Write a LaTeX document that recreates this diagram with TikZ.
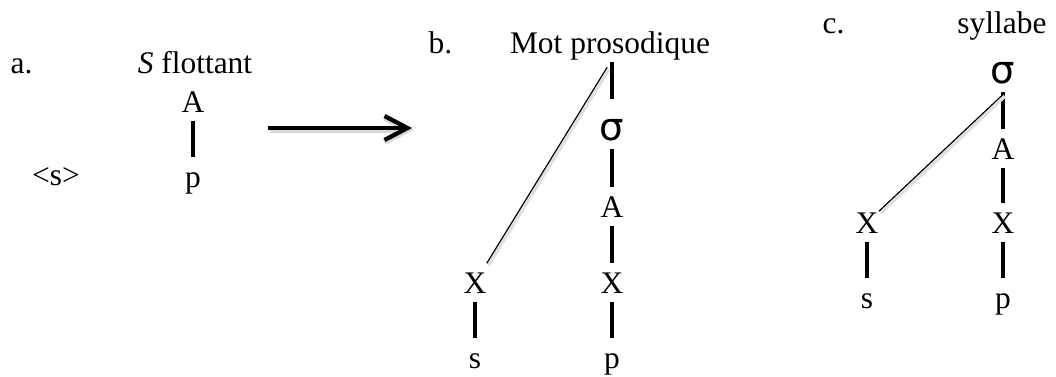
\documentclass[tikz,border=0pt]{standalone}
\usepackage{fontspec}
\setmainfont{Liberation Serif}
\newfontfamily\sigfont{DejaVu Sans}
\usepackage{tikz}
\usetikzlibrary{arrows.meta}

\tikzset{
  lab/.style={anchor=base west,inner sep=0pt},
  seg/.style={anchor=base,inner sep=0pt,text height=10.2pt,text depth=2.8pt},
  sig/.style={seg,text height=14pt,font=\sigfont\fontsize{13.5}{15}\selectfont},
  branch/.style={line width=1.15pt},
  assoc/.style={line width=0.4pt,
    preaction={draw=black!12,line width=1.3pt,transform canvas={shift={(0.6pt,-0.6pt)}}}},
  derive/.style={line width=1.5pt,-{Straight Barb[length=8pt,width=8.4pt]},
    preaction={draw=black!15,line width=2pt,transform canvas={shift={(0.6pt,-0.7pt)}}}}
}

\begin{document}
\begin{tikzpicture}[x=0.35pt,y=-0.35pt, every node/.style={font=\fontsize{11}{13}\selectfont}]
  \useasboundingbox (0,0) rectangle (1056,377);

  % a. floating S
  \node[lab] (la) at (10,73) {a.};
  \node[seg] (sfl) at (195,73) {\textit{S} flottant};
  \node[seg] (aa) at (193,112) {A};
  \node[seg] (pa) at (193,187) {p};
  \node[seg] (sa) at (56,185) {<s>};
  \draw[branch] (aa) -- (pa);

  \coordinate (from) at (268,128); \coordinate (to) at (412,128);
  \draw[derive] (from) -- (to);

  % b. prosodic word
  \node[lab] (lb) at (428,53) {b.};
  \node[seg] (mot) at (610,53) {Mot prosodique};
  \node[sig] (sgb) at (612,140) {σ};
  \node[seg] (ab) at (612,217) {A};
  \node[seg] (xb) at (612,293) {X};
  \node[seg] (xbl) at (475,293) {X};
  \node[seg] (pb) at (612,368) {p};
  \node[seg] (sb) at (475,368) {s};
  \draw[branch] (mot.south -| sgb) -- (sgb) -- (ab) -- (xb) -- (pb);
  \draw[branch] (xbl) -- (sb);
  \draw[assoc] ([xshift=-1pt,yshift=-2pt]mot.south) -- (xbl);

  % c. syllable
  \node[lab] (lc) at (822,33) {c.};
  \node[seg] (syl) at (1002,33) {syllabe};
  \node[sig] (sgc) at (1003,83) {σ};
  \node[seg] (ac) at (1003,159) {A};
  \node[seg] (xc) at (1003,233) {X};
  \node[seg] (xcl) at (867,233) {X};
  \node[seg] (pc) at (1003,308) {p};
  \node[seg] (sc) at (867,308) {s};
  \draw[branch] (sgc) -- (ac) -- (xc) -- (pc);
  \draw[branch] (xcl) -- (sc);
  \draw[assoc] ([yshift=-1pt]sgc.south) -- (xcl);
\end{tikzpicture}
\end{document}
